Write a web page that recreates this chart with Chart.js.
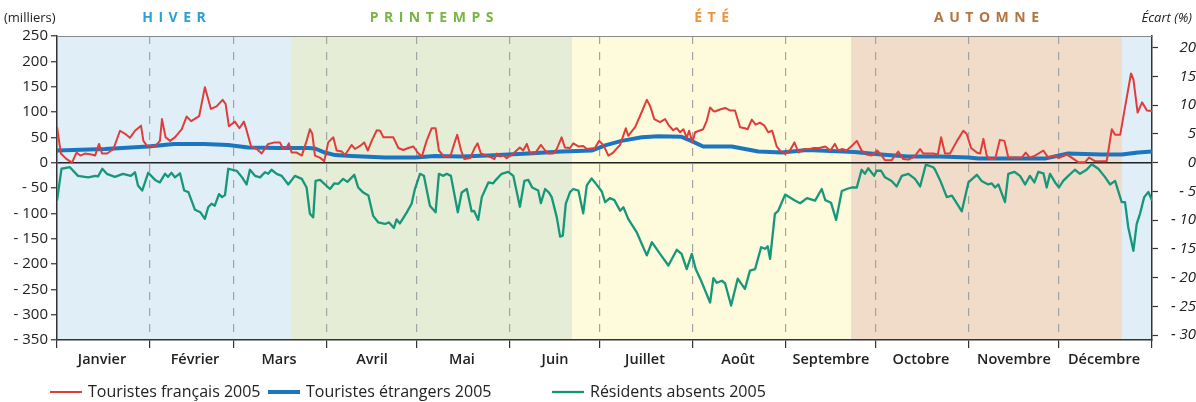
<!DOCTYPE html>
<html><head><meta charset="utf-8">
<script src="https://cdn.jsdelivr.net/npm/chart.js@4.4.0/dist/chart.umd.min.js"></script>
<style>
html,body{margin:0;padding:0;background:#fff;}
#wrap{width:1196px;height:402px;position:relative;}
</style>
</head><body>
<div id="wrap"><canvas id="c" width="1196" height="402"></canvas></div>
<script>
// ---------- DATA ----------
const monthLabels = ['Janvier','Février','Mars','Avril','Mai','Juin','Juillet','Août','Septembre','Octobre','Novembre','Décembre'];
const monthStarts = [0,31,59,90,120,151,181,212,243,273,304,334,365];
const seasonNames = ['HIVER','PRINTEMPS','ÉTÉ','AUTOMNE'];
const seasonStarts = [0,78,171.7,264.7,355,365]; // day of year (winter, spring, summer, autumn, winter)
const leftTicks = [250,200,150,100,50,0,-50,-100,-150,-200,-250,-300,-350];
const rightTicks = [20,15,10,5,0,-5,-10,-15,-20,-25,-30];
const seriesLabels = ['Touristes français 2005','Touristes étrangers 2005','Résidents absents 2005'];

const frDays = [0,1.3,3,5,6.5,7.8,9.3,11.5,12.7,14,15,16.7,18.8,21,22.7,24.3,26,28,28.8,29.9,32.7,34.3,35,36.2,37.7,39.3,41.6,43.2,44.7,46.6,47.4,49.3,51.3,53.2,55.2,56.2,57.3,59.3,60.8,62.3,63,64.7,66.6,68.2,70.4,72.6,74.3,75.4,76.5,77.3,78.2,79.9,81.6,83.2,84.3,85.1,86,87.6,89.1,90.4,92.1,93.2,94.9,96,98.2,99.3,101,102.4,103.6,104.9,106.6,107.7,108.8,112.1,113.8,115.4,117.1,118.8,120.2,121.6,123.2,124.9,126.2,127.3,129,131.2,132.4,133.4,134.7,135.8,137.7,139.3,140.2,141.3,143.2,144.9,145.8,146.6,147.7,148.8,149.9,152.1,154.3,155.4,156.6,157.7,159.3,161.3,162.7,163.8,165.4,166.6,168.2,169.3,171,172.1,173.8,175.4,176.6,179.3,180.7,182.1,183.8,185.4,187.7,189.6,190.4,192.7,194.7,196.6,197.7,199.1,201,202.7,204,205.4,206.6,207.7,208.8,209.9,210.7,211.8,212.7,215.4,216.6,217.7,218.8,219.3,221,222.7,224.3,226,227.7,229.3,230.2,231.6,232.9,234.3,235.8,237.1,238.4,239.9,241,242.7,244.3,245.8,247.2,248.9,251.1,252.2,254.1,256.1,257.8,259.3,260.4,261.8,263.2,264.9,266.6,268.2,269.9,271.6,273.4,274.9,276,278.2,280.4,282.1,283.8,285.8,287.7,288.8,292.1,293.6,294.7,296,297.7,300,302.1,303.2,304.7,306.6,307.7,308.8,309.9,311,312.7,314.3,315.8,317.1,321.6,322.9,324.3,326,328.8,330.4,332.7,333.8,336.6,338.2,340.4,342.7,344,346,349.9,351.6,352.7,354.4,356,358,358.8,360.2,361.7,363.3,365];
const frVals = [71,18,8,0,20,14,18,16,14,37,18,18,27,63,57,49,63,73,43,34,32,43,86,50,43,50,66,91,82,89,92,149,106,111,124,116,72,81,68,81,68,32,27,18,37,40,40,27,30,38,20,20,14,43,66,57,14,10,3,40,50,24,22,15,35,27,33,40,24,43,64,63,50,50,29,25,29,32,20,12,43,68,68,24,12,14,37,55,24,7,9,30,38,18,14,10,7,18,12,14,9,18,30,24,37,18,18,35,24,18,18,27,50,30,29,38,32,33,27,29,43,35,14,20,35,68,53,70,97,124,112,86,80,86,73,64,68,60,66,49,63,40,60,66,83,109,102,101,105,108,103,103,70,68,66,85,75,79,73,60,63,32,24,17,24,40,20,27,27,29,29,32,24,37,24,27,24,33,43,24,16,14,24,14,5,5,22,7,6,12,27,18,18,16,50,18,18,43,63,57,29,20,18,47,14,7,7,45,43,10,10,20,10,14,24,10,14,9,16,10,1,1,10,3,3,66,55,55,109,176,165,99,119,103,102];

const etDays = [0,16,30.4,39,49,57,63.8,74,83.8,86,89.3,92.7,98.2,109.3,119.3,126,134.9,143.8,157.1,168.2,178.2,182.7,188.2,194.9,200.4,208.2,211.4,215.4,224.9,233.8,241.6,250,265.8,274.7,283.6,294.3,303.8,307.1,329.3,337,348.2,354.9,360.4,365];
const etVals = [24,27,32,37,37,35,30,29,29,28,20,15,13,10,10,13,12,14,18,22,24,34,43,50,52,51,43,32,32,22,20,25,21,16,12,12,10,8,8,18,16,16,20,22];

const reDays = [0,1.5,4.3,7,10.4,12.8,13.7,15.1,16.6,19.3,22,24.6,26,27,28.4,30.4,32.7,34.3,36,37,38.2,39.3,41,42.4,43.8,46,47.8,49.3,50.4,51.5,52.6,54,55,56,57.1,59.9,61.7,63.2,64.3,66,67.7,69.3,70.4,71.5,73.2,74.9,77.1,79.3,81.6,83.2,84.3,85.4,86.2,87.7,89.3,91,92.4,93.7,95.4,96.8,99.1,100.4,102.1,103.8,105.4,107.1,109.3,110.7,112.3,113.2,114.3,116.6,118.2,119.3,121,122.3,124.3,126.2,127.3,128.8,129.9,131.3,133.6,134.9,136.6,138.2,139,140.4,141.6,143.8,145.4,146,148.2,150.4,152.1,154.3,155.8,157.1,158.4,160.4,161.3,162.7,164,164.9,166.6,167.7,168.6,169.6,171,172.1,173.8,175.4,176.6,178.2,179.3,181.6,182.7,184.3,185.8,187.7,188.8,190.4,193.2,194.9,196.6,198.3,201,203.8,206.6,208.2,209.9,211.6,212.9,214.7,216.3,217.7,218.8,219.9,221.6,222.7,224.7,226.9,229.3,231,232.7,234.7,236,236.9,237.7,239.3,240.4,242.7,245.8,247.7,250,252.7,254.9,256.1,258,259.7,261.6,263.2,264.9,266.6,268.2,269.3,270.4,272.4,273.2,274.7,276,278.2,279.9,281.6,283.8,286,287.7,289.6,292.1,292.7,294.4,296.6,298.3,300,301.6,303.8,306.6,308.2,310.4,311.6,312.7,313.8,316,317.1,319.1,321,322.7,324.3,325.8,327.1,328.8,329.9,331,332.7,334,335.4,337.1,339.3,341,343.2,344.9,347.1,349.3,351,352.7,354.9,356,357.1,358.8,359.9,361,362.4,363.8,365];
const reVals = [-75,-12,-9,-26,-29,-26,-27,-12,-22,-28,-22,-26,-19,-45,-55,-20,-34,-39,-22,-28,-20,-29,-21,-55,-58,-93,-98,-111,-88,-81,-85,-62,-68,-64,-12,-16,-29,-43,-14,-26,-29,-19,-22,-14,-22,-26,-43,-26,-32,-49,-101,-108,-36,-34,-43,-52,-41,-42,-32,-38,-24,-49,-59,-65,-105,-118,-121,-118,-129,-112,-120,-98,-81,-52,-22,-26,-85,-98,-22,-26,-22,-26,-98,-59,-52,-96,-95,-113,-68,-39,-41,-36,-22,-18,-26,-87,-36,-34,-49,-55,-80,-52,-59,-68,-108,-146,-144,-81,-58,-52,-55,-100,-45,-31,-39,-57,-78,-70,-74,-95,-88,-111,-137,-160,-183,-157,-180,-203,-172,-180,-210,-180,-210,-233,-256,-276,-228,-237,-233,-238,-282,-229,-249,-213,-210,-167,-170,-165,-190,-101,-95,-63,-74,-80,-70,-75,-52,-74,-79,-113,-56,-52,-49,-49,-14,-22,-11,-26,-16,-16,-29,-36,-47,-26,-22,-32,-47,-4,-9,-14,-35,-68,-65,-81,-96,-39,-24,-36,-43,-41,-49,-43,-78,-22,-18,-26,-43,-26,-39,-18,-21,-49,-22,-39,-49,-36,-26,-14,-22,-14,-3,-12,-28,-43,-36,-78,-78,-128,-174,-121,-101,-68,-58,-75];

// ---------- STYLE ----------
const FONT = "'Open Sans', 'Noto Sans', sans-serif";
const seriesColors = ['#e03c3a','#1c76bf','#17977a'];
const seriesWidths = [2,4,2.3];
const seasonFill = ['#e0eef8','#e6edd6','#fdfbdc','#f1dcc9','#e0eef8'];
const seasonTextColor = ['#2a9fd8','#7ab443','#f0923a','#b4743e'];
const pctMin = -30.84, pctMax = 22.03;

const toPts = (xs, ys) => xs.map((d, i) => ({x: d, y: ys[i]}));
const fmt = v => v < 0 ? '- ' + Math.abs(v) : String(v);

const decor = {
  id: 'decor',
  beforeDraw(chart) {
    const {ctx, chartArea: a, scales: {x}} = chart;
    ctx.save();
    for (let i = 0; i < seasonStarts.length - 1; i++) {
      const x0 = x.getPixelForValue(seasonStarts[i]);
      const x1 = x.getPixelForValue(seasonStarts[i + 1]);
      ctx.fillStyle = seasonFill[i];
      ctx.fillRect(x0, a.top, x1 - x0, a.bottom - a.top);
    }
    ctx.restore();
  },
  afterDraw(chart) {
    const {ctx, chartArea: a, scales: {x}} = chart;
    ctx.save();
    // top border
    ctx.strokeStyle = '#8a8a8a'; ctx.lineWidth = 1.2;
    ctx.beginPath(); ctx.moveTo(a.left, a.top + 0.5); ctx.lineTo(a.right, a.top + 0.5); ctx.stroke();
    // season titles (letter-spaced)
    ctx.font = "bold 14px " + FONT;
    ctx.textBaseline = 'middle';
    const sp = 5.5;
    for (let i = 0; i < seasonNames.length; i++) {
      const cx = (x.getPixelForValue(seasonStarts[i]) + x.getPixelForValue(seasonStarts[i + 1])) / 2;
      const chars = [...seasonNames[i]];
      const ws = chars.map(c => ctx.measureText(c).width);
      const total = ws.reduce((s, w) => s + w, 0) + sp * (chars.length - 1);
      let px = cx - total / 2;
      ctx.fillStyle = seasonTextColor[i];
      ctx.textAlign = 'left';
      chars.forEach((c, k) => { ctx.fillText(c, px, 18); px += ws[k] + sp; });
    }
    // axis titles
    ctx.fillStyle = '#222';
    ctx.font = "13px " + FONT;
    ctx.textAlign = 'left';
    ctx.fillText('(milliers)', 4, 18);
    ctx.font = "italic 13px " + FONT;
    ctx.textAlign = 'right';
    ctx.fillText('Écart (%)', 1192, 18);
    // legend
    ctx.font = "16px " + FONT;
    ctx.textAlign = 'left';
    const legX = [50, 268, 552];
    chart.data.datasets.forEach((ds, i) => {
      ctx.strokeStyle = ds.borderColor; ctx.lineWidth = ds.borderWidth;
      ctx.beginPath(); ctx.moveTo(legX[i], 392); ctx.lineTo(legX[i] + 32, 392); ctx.stroke();
      ctx.fillStyle = '#222';
      ctx.fillText(ds.label, legX[i] + 38, 392);
    });
    ctx.restore();
  }
};

new Chart(document.getElementById('c'), {
  type: 'line',
  data: {
    datasets: [
      {label: seriesLabels[0], data: toPts(frDays, frVals), borderColor: seriesColors[0], borderWidth: seriesWidths[0]},
      {label: seriesLabels[1], data: toPts(etDays, etVals), borderColor: seriesColors[1], borderWidth: seriesWidths[1]},
      {label: seriesLabels[2], data: toPts(reDays, reVals), borderColor: seriesColors[2], borderWidth: seriesWidths[2]}
    ]
  },
  options: {
    responsive: false,
    animation: false,
    devicePixelRatio: 1,
    layout: {padding: {top: 36, bottom: 32, left: 0, right: 0}},
    elements: {point: {radius: 0}, line: {tension: 0, borderJoinStyle: 'round'}},
    plugins: {legend: {display: false}, tooltip: {enabled: false}},
    scales: {
      x: {
        type: 'linear', min: 0, max: 365,
        afterBuildTicks: s => { s.ticks = monthStarts.map(v => ({value: v})); },
        afterFit: s => { s.height = 30; },
        ticks: {
          autoSkip: false, maxRotation: 0, minRotation: 0, labelOffset: 45, padding: 3,
          color: '#222', font: {family: FONT, size: 14.5, weight: '600'},
          callback: (v, i) => i < monthLabels.length ? monthLabels[i] : ''
        },
        grid: {
          color: ctx => (ctx.tick && (ctx.tick.value === 0 || ctx.tick.value === 365)) ? 'rgba(0,0,0,0)' : '#a3a3a3',
          lineWidth: 1.2, tickLength: 8, tickColor: '#333', tickWidth: 1.2
        },
        border: {display: true, color: '#333', width: 1.5, dash: [8, 8]}
      },
      y: {
        position: 'left', min: -350, max: 250,
        afterBuildTicks: s => { s.ticks = leftTicks.map(v => ({value: v})); },
        afterFit: s => { s.width = 57; },
        ticks: {padding: 3, color: '#222', font: {family: FONT, size: 15}, callback: v => fmt(v)},
        grid: {
          color: ctx => (ctx.tick && ctx.tick.value === 0) ? '#222' : 'rgba(0,0,0,0)',
          lineWidth: 1.5, tickLength: 6, tickColor: '#333', tickWidth: 1.2
        },
        border: {display: true, color: '#333', width: 1.5}
      },
      y1: {
        position: 'right', min: pctMin, max: pctMax,
        afterBuildTicks: s => { s.ticks = rightTicks.map(v => ({value: v})); },
        afterFit: s => { s.width = 44; },
        ticks: {padding: -2, crossAlign: 'far', color: '#222', font: {family: FONT, size: 15, style: 'italic'}, callback: v => fmt(v)},
        grid: {drawOnChartArea: false, tickLength: 6, tickColor: '#333', tickWidth: 1.2},
        border: {display: true, color: '#333', width: 1.5}
      }
    }
  },
  plugins: [decor]
});
</script>
</body></html>
